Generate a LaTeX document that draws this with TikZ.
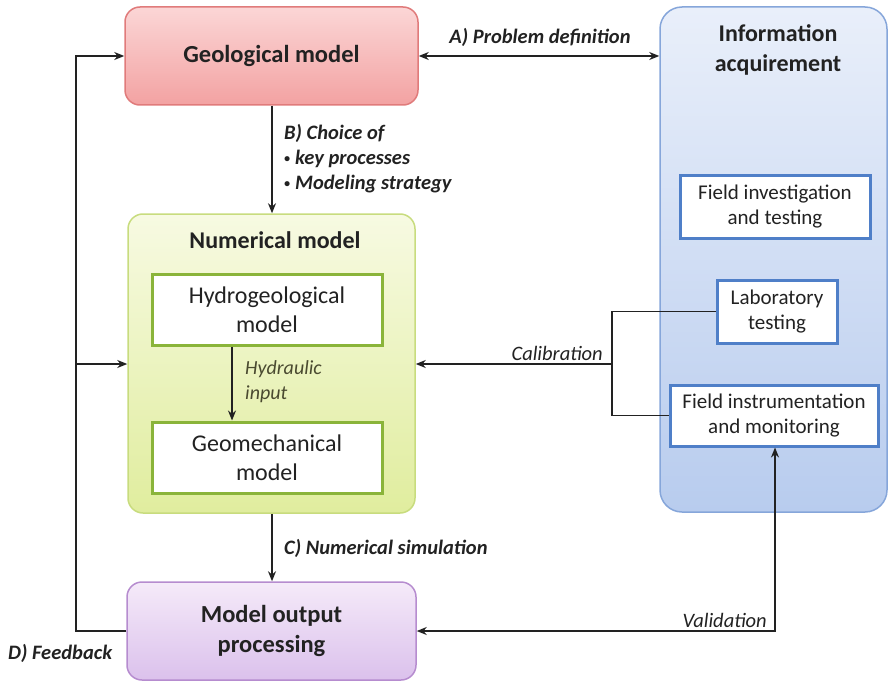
\documentclass[tikz,border=0pt]{standalone}
\usepackage{fontspec}
\setmainfont{Carlito}
\usetikzlibrary{arrows.meta,positioning,calc}
\definecolor{txt}{HTML}{222222}
\definecolor{geoT}{HTML}{FBD6D6}
\definecolor{geoB}{HTML}{F3A2A2}
\definecolor{geoD}{HTML}{E07B7B}
\definecolor{infT}{HTML}{E9EFFA}
\definecolor{infB}{HTML}{B8CCEE}
\definecolor{infD}{HTML}{86A6DA}
\definecolor{inbD}{HTML}{4F7FC8}
\definecolor{numT}{HTML}{F7FAE2}
\definecolor{numB}{HTML}{E0ED9E}
\definecolor{numD}{HTML}{C8DC7E}
\definecolor{ingD}{HTML}{8AB43A}
\definecolor{purT}{HTML}{F5EAF9}
\definecolor{purB}{HTML}{DBC1EC}
\definecolor{purD}{HTML}{B68CCF}
\definecolor{hyd}{HTML}{4A4A30}
\newcommand{\smallbul}{{\fontsize{12}{12}\selectfont\raisebox{0.25ex}{•}}\hspace{5pt}}
\tikzset{
  x=1pt,y=-1pt,
  bigbox/.style={rounded corners=15pt, line width=1.5pt, inner sep=0pt, text=txt,
    font=\fontsize{24.5}{30}\selectfont\bfseries, align=center},
  innerbox/.style={fill=white, line width=3pt, inner sep=0pt, text=txt, align=center},
  lbl/.style={text=txt, font=\fontsize{20.5}{25}\selectfont\bfseries\itshape, inner sep=0pt},
  ilbl/.style={text=txt, font=\fontsize{20.5}{25}\selectfont\itshape, inner sep=0pt},
  conn/.style={line width=1.6pt, draw=txt},
  tip/.style={-{Stealth[length=10pt,width=8pt]}},
}
\begin{document}
\begin{tikzpicture}
\useasboundingbox (0,0) rectangle (888,682);
% main boxes
\node[bigbox, draw=geoD, top color=geoT, bottom color=geoB,
  minimum width=293pt, minimum height=98pt] (geo) at (271.5,56) {Geological model};
\node[bigbox, draw=infD, top color=infT, bottom color=infB, rounded corners=22pt,
  minimum width=227pt, minimum height=505pt] (info) at (773.5,259.5) {};
\node[text=txt, font=\fontsize{24}{30}\selectfont\bfseries, align=center] (infotitle) at (778,50) {Information\\acquirement};
\node[bigbox, draw=numD, top color=numT, bottom color=numB,
  minimum width=287pt, minimum height=299pt] (num) at (271.5,363.5) {};
\node[text=txt, font=\fontsize{24}{26}\selectfont\bfseries] (numtitle) at (275,240) {Numerical model};
\node[bigbox, draw=purD, top color=purT, bottom color=purB,
  minimum width=289pt, minimum height=98pt] (mop) at (271.5,631) {Model output\\processing};
% inner green boxes
\node[innerbox, draw=ingD, minimum width=230pt, minimum height=71pt,
  font=\fontsize{24}{29}\selectfont] (hydro) at (267,309.5) {Hydrogeological\\model};
\node[innerbox, draw=ingD, minimum width=230pt, minimum height=71pt,
  font=\fontsize{24}{29}\selectfont] (geomech) at (267,457.5) {Geomechanical\\model};
% inner blue boxes
\node[innerbox, draw=inbD, minimum width=190pt, minimum height=63pt,
  font=\fontsize{21}{25}\selectfont] (fit) at (775,206.5) {Field investigation\\and testing};
\node[innerbox, draw=inbD, minimum width=120pt, minimum height=63pt,
  font=\fontsize{21}{25}\selectfont] (lab) at (777,311.5) {Laboratory\\testing};
\node[innerbox, draw=inbD, minimum width=208pt, minimum height=61pt,
  font=\fontsize{21}{25}\selectfont] (fim) at (774,415.5) {Field instrumentation\\and monitoring};
% connectors
\draw[conn, {Stealth[length=10pt,width=8pt]}-{Stealth[length=10pt,width=8pt]}] (geo.east) -- (info.west |- geo.east);
\node[lbl] (lA) at (540,37) {A) Problem definition};
\draw[conn, tip] (geo.south -| 272,0) -- (num.north -| 272,0);
\node[lbl, anchor=north west, align=left] (lB) at (284,124) {B) Choice of\\\smallbul key processes\\\smallbul Modeling strategy};
\draw[conn, tip] (num.south -| 272,0) -- (mop.north -| 272,0);
\node[lbl, anchor=west] (lC) at (284,548) {C) Numerical simulation};
\draw[conn, tip, line width=1.3pt] (hydro.south -| 232,0) -- (geomech.north -| 232,0);
\node[ilbl, text=hyd, anchor=north west, align=left, font=\fontsize{20}{25}\selectfont\itshape] (lH) at (245,360) {Hydraulic\\input};
% feedback
\coordinate (fb1) at (76,631);
\coordinate (fb2) at (76,56);
\coordinate (fb3) at (76,364);
\draw[line width=2.8pt, draw=txt, tip] (mop.west) -- (fb1) -- (fb2) -- (geo.west);
\draw[line width=2.8pt, draw=txt, tip] (fb3) -- (num.west |- fb3);
\node[lbl, anchor=west] (lD) at (8,653) {D) Feedback};
% calibration
\coordinate (cal1) at (612,311.5);
\coordinate (cal2) at (612,415.5);
\coordinate (cal3) at (612,364);
\draw[line width=1.3pt, draw=txt] (lab.west) -- (cal1) -- (cal2) -- (fim.west);
\draw[conn, tip] (cal3) -- (num.east |- cal3);
\node[ilbl, anchor=south east] (lCal) at (603,361) {Calibration};
% validation
\coordinate (val1) at (775,631);
\draw[conn, {Stealth[length=10pt,width=8pt]}-{Stealth[length=10pt,width=8pt]}] (fim.south -| val1) -- (val1) -- (mop.east |- val1);
\node[ilbl, anchor=south east] (lVal) at (767,628) {Validation};
\end{tikzpicture}
\end{document}
